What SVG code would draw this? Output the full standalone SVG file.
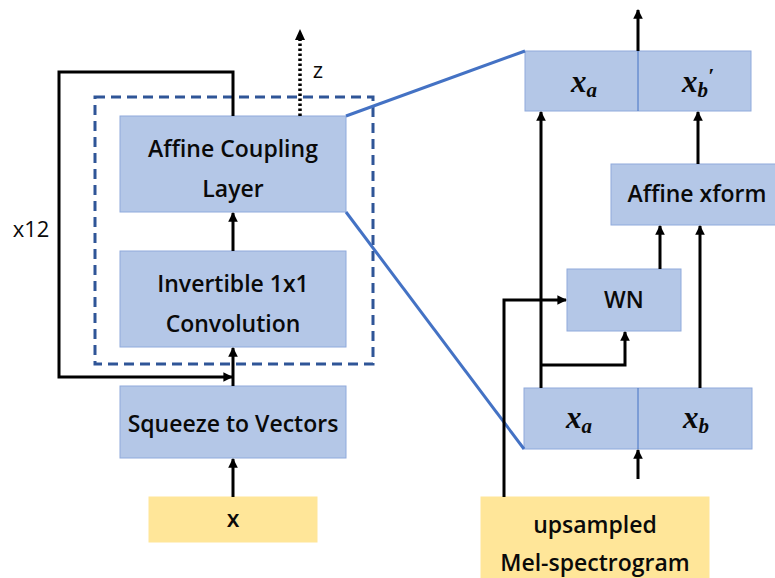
<svg xmlns="http://www.w3.org/2000/svg" width="775" height="578" viewBox="0 0 775 578">
  <defs>
    <marker id="arrow" viewBox="0 0 10 10" refX="9" refY="5" markerWidth="3.2" markerHeight="3.2" orient="auto" markerUnits="strokeWidth">
      <path d="M0,0 L10,5 L0,10 z" fill="#000"/>
    </marker>
    <style>
      .blk { fill: #B4C7E7; stroke: #8FAADC; stroke-width: 1; }
      .inp { fill: #FFE699; stroke: #FFE699; stroke-width: 1; }
      .lbl { font-family: "Open Sans", "Noto Sans", sans-serif; font-size: 23px; font-weight: 600; fill: #0a0a0a; text-anchor: middle; }
      .plain { font-weight: 500; font-size: 22px; }
      .math { font-family: "Liberation Serif", serif; font-size: 31px; font-weight: bold; font-style: italic; fill: #0a0a0a; text-anchor: middle; }
      .sub { font-size: 21px; }
      .arr { fill: none; stroke: #000; stroke-width: 3; marker-end: url(#arrow); }
      .zoomline { fill: none; stroke: #4472C4; stroke-width: 3; }
    </style>
  </defs>

  <rect width="775" height="578" fill="#fff"/>

  <!-- flow step (dashed outline) -->
  <rect id="flow-step" x="95" y="97" width="278" height="267" fill="none" stroke="#2F5597" stroke-width="3" stroke-dasharray="10,6"/>

  <g id="affine-coupling">
    <rect class="blk" x="120" y="116" width="226" height="96"/>
    <text class="lbl" x="233" y="157">Affine Coupling</text>
    <text class="lbl" x="233" y="197">Layer</text>
  </g>

  <g id="invertible-conv">
    <rect class="blk" x="120" y="251" width="226" height="96"/>
    <text class="lbl" x="233" y="292">Invertible 1x1</text>
    <text class="lbl" x="233" y="332">Convolution</text>
  </g>

  <g id="squeeze">
    <rect class="blk" x="120" y="386" width="226" height="72"/>
    <text class="lbl" x="233" y="432">Squeeze to Vectors</text>
  </g>

  <g id="input-x">
    <rect class="inp" x="149" y="497" width="168" height="45"/>
    <text class="lbl" x="233" y="527">x</text>
  </g>

  <g id="label-x12">
    <text class="lbl plain" x="31" y="237">x12</text>
  </g>
  <g id="label-z">
    <text class="lbl plain" x="318" y="78">z</text>
  </g>

  <!-- coupling layer detail -->
  <g id="out-split">
    <rect class="blk" x="525" y="51" width="226" height="60"/>
    <line x1="638" y1="51" x2="638" y2="111" stroke="#4472C4" stroke-width="1"/>
    <text class="math" x="584" y="92">x<tspan class="sub" dy="5">a</tspan></text>
    <text class="math" x="698" y="92">x<tspan class="sub" dy="5">b</tspan><tspan dy="-14" font-size="22">′</tspan></text>
  </g>

  <g id="affine-xform">
    <rect class="blk" x="611" y="164" width="170" height="61"/>
    <text class="lbl" x="697" y="202">Affine xform</text>
  </g>

  <g id="wn">
    <rect class="blk" x="567" y="269" width="114" height="62"/>
    <text class="lbl" x="624" y="308">WN</text>
  </g>

  <g id="in-split">
    <rect class="blk" x="524" y="388" width="228" height="61"/>
    <line x1="638" y1="388" x2="638" y2="449" stroke="#4472C4" stroke-width="1"/>
    <text class="math" x="579" y="428">x<tspan class="sub" dy="5">a</tspan></text>
    <text class="math" x="696" y="428">x<tspan class="sub" dy="5">b</tspan></text>
  </g>

  <g id="mel">
    <rect class="inp" x="481" y="497" width="228" height="90"/>
    <text class="lbl" x="595" y="533">upsampled</text>
    <text class="lbl" x="595" y="571">Mel-spectrogram</text>
  </g>

  <g id="connectors">
    <!-- left stack -->
    <line class="arr" x1="233" y1="497" x2="233" y2="459"/>
    <line class="arr" x1="233" y1="386" x2="233" y2="348"/>
    <line class="arr" x1="233" y1="251" x2="233" y2="213"/>
    <polyline class="arr" points="233,116 233,72 59,72 59,377 232,377"/>
    <line x1="300" y1="116" x2="300" y2="38" stroke="#000" stroke-width="3.5" stroke-dasharray="2.5,2.5"/>
    <path d="M295,40 L300,29 L305,40 z" fill="#000"/>

    <!-- zoom lines -->
    <line class="zoomline" x1="346" y1="116" x2="525" y2="51"/>
    <line class="zoomline" x1="346" y1="212" x2="524" y2="449"/>

    <!-- right detail -->
    <line class="arr" x1="638" y1="51" x2="638" y2="10"/>
    <line class="arr" x1="638" y1="479" x2="638" y2="450"/>
    <line class="arr" x1="541" y1="388" x2="541" y2="112"/>
    <polyline class="arr" points="541,365 625,365 625,332"/>
    <line class="arr" x1="700" y1="388" x2="700" y2="226"/>
    <line class="arr" x1="660" y1="269" x2="660" y2="226"/>
    <line class="arr" x1="698" y1="164" x2="698" y2="112"/>
    <polyline class="arr" points="504,497 504,300 566,300"/>
  </g>
</svg>
